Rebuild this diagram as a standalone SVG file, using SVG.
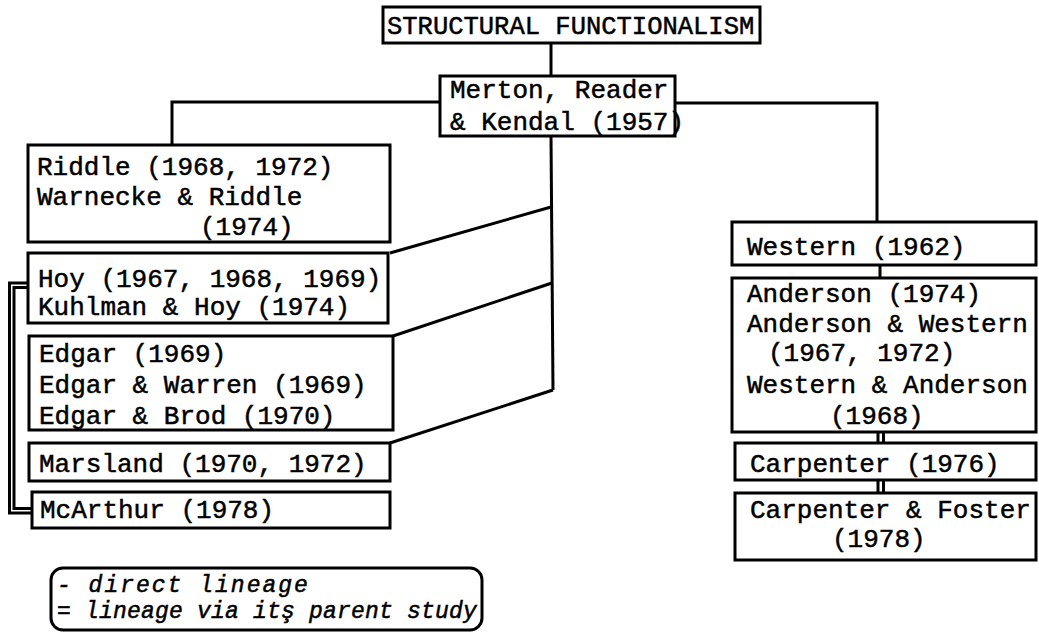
<svg xmlns="http://www.w3.org/2000/svg" width="1039" height="634" viewBox="0 0 1039 634">
<style>
.box{fill:#fff;stroke:#000;stroke-width:3}
.t{font-family:"Liberation Mono","Courier New",monospace;font-size:26px;fill:#000;stroke:#000;stroke-width:0.5}
.i{font-style:italic;font-size:23px}
.ln{fill:none;stroke:#000;stroke-width:3;stroke-linejoin:miter}
</style>
<rect width="1039" height="634" fill="#fff"/>
<g id="connectors">
<line class="ln" x1="551" y1="43" x2="551" y2="76"/>
<path class="ln" d="M440 102 H172 V145"/>
<path class="ln" d="M675 103 H877 V222"/>
<line class="ln" x1="551" y1="136" x2="553" y2="390"/>
<line class="ln" x1="551" y1="207" x2="390" y2="253"/>
<line class="ln" x1="552" y1="283" x2="393" y2="336"/>
<line class="ln" x1="553" y1="390" x2="390" y2="443"/>
<path class="ln" d="M28 283 H9.5 V513 H32" stroke-width="2.5"/>
<path class="ln" d="M28 287.5 H14 V508.5 H32" stroke-width="2.5"/>
<line class="ln" x1="880" y1="265" x2="880" y2="278" stroke-width="6"/>
<line class="ln" x1="878" y1="432" x2="878" y2="443" stroke-width="2.5"/>
<line class="ln" x1="883.5" y1="432" x2="883.5" y2="443" stroke-width="2.5"/>
<line class="ln" x1="878" y1="480" x2="878" y2="493" stroke-width="2.5"/>
<line class="ln" x1="883.5" y1="480" x2="883.5" y2="493" stroke-width="2.5"/>
</g>
<g id="structural">
<rect class="box" x="383" y="7" width="377" height="36"/>
<text class="t" x="387" y="34" style="font-size:25.5px">STRUCTURAL FUNCTIONALISM</text>
</g>
<g id="merton">
<rect class="box" x="440" y="76" width="235" height="60"/>
<text class="t" x="450" y="98">Merton, Reader</text>
<text class="t" x="450" y="130">&amp; Kendal (1957)</text>
</g>
<g id="riddle">
<rect class="box" x="28" y="145" width="362" height="97"/>
<text class="t" x="37" y="175">Riddle (1968, 1972)</text>
<text class="t" x="37" y="205">Warnecke &amp; Riddle</text>
<text class="t" x="200" y="235">(1974)</text>
</g>
<g id="hoy">
<rect class="box" x="28" y="253" width="360" height="70"/>
<text class="t" x="38" y="287">Hoy (1967, 1968, 1969)</text>
<text class="t" x="38" y="315">Kuhlman &amp; Hoy (1974)</text>
</g>
<g id="edgar">
<rect class="box" x="29" y="336" width="364" height="94"/>
<text class="t" x="39" y="362">Edgar (1969)</text>
<text class="t" x="39" y="393">Edgar &amp; Warren (1969)</text>
<text class="t" x="39" y="424">Edgar &amp; Brod (1970)</text>
</g>
<g id="marsland">
<rect class="box" x="29" y="443" width="361" height="38"/>
<text class="t" x="39" y="472">Marsland (1970, 1972)</text>
</g>
<g id="mcarthur">
<rect class="box" x="32" y="492" width="358" height="36"/>
<text class="t" x="40" y="518">McArthur (1978)</text>
</g>
<g id="western">
<rect class="box" x="732" y="222" width="304" height="43"/>
<text class="t" x="747" y="255">Western (1962)</text>
</g>
<g id="anderson">
<rect class="box" x="732" y="278" width="304" height="154"/>
<text class="t" x="747" y="302">Anderson (1974)</text>
<text class="t" x="747" y="332">Anderson &amp; Western</text>
<text class="t" x="768" y="361">(1967, 1972)</text>
<text class="t" x="747" y="393">Western &amp; Anderson</text>
<text class="t" x="830" y="424">(1968)</text>
</g>
<g id="carpenter">
<rect class="box" x="735" y="443" width="301" height="37"/>
<text class="t" x="750" y="472">Carpenter (1976)</text>
</g>
<g id="carpenter-foster">
<rect class="box" x="735" y="493" width="301" height="67"/>
<text class="t" x="750" y="518">Carpenter &amp; Foster</text>
<text class="t" x="832" y="547">(1978)</text>
</g>
<g id="legend">
<rect x="51" y="568" width="431" height="62" rx="12" ry="12" fill="none" stroke="#000" stroke-width="3"/>
<text class="t i" x="57" y="592" letter-spacing="2">- direct lineage</text>
<text class="t i" x="57" y="618" letter-spacing="0.2">= lineage via itş parent study</text>
</g>
</svg>
